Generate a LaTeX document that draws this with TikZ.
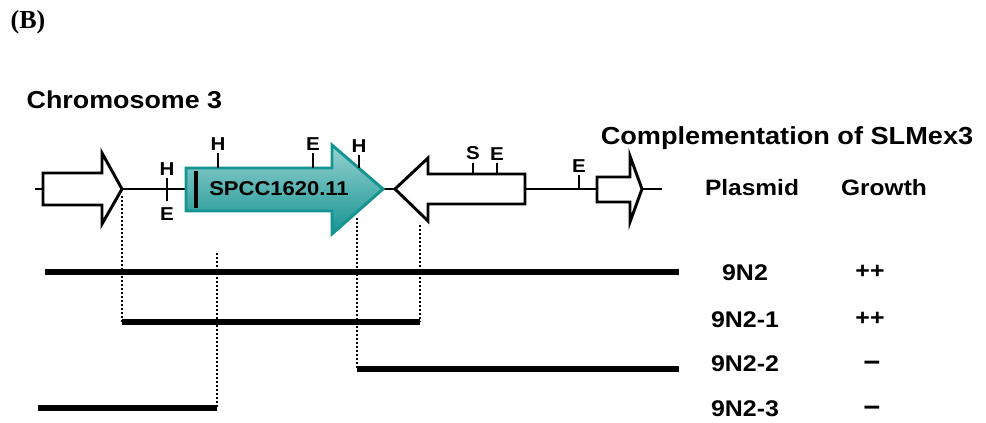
\documentclass[tikz,border=0pt]{standalone}
\usepackage{fontspec}
\setmainfont{Liberation Sans}[FakeStretch=1.1]
\newfontfamily\panelfont{Liberation Serif}
\usepackage{tikz}
\usetikzlibrary{positioning}

\definecolor{geneteal}{RGB}{22,148,146}
\definecolor{genelight}{RGB}{150,210,208}

\begin{document}
\begin{tikzpicture}[
    x=0.75pt, y=-0.75pt,
    lbl/.style={
        font=\fontsize{17}{19}\selectfont\bfseries,
        inner sep=0pt
    },
    site/.style={
        font=\fontsize{14}{15}\selectfont\bfseries,
        inner sep=0pt
    },
    chrom/.style={line width=2pt},
    orf/.style={
        draw=black,
        line width=2.2pt,
        fill=white
    },
    target/.style={
        draw=geneteal,
        line width=2.2pt,
        top color=genelight,
        middle color=geneteal!80!black,
        bottom color=geneteal
    },
    cut/.style={line width=2pt},
    frag/.style={line width=3.8pt},
    joint/.style={line width=1.5pt, dash pattern=on 1.5pt off 1.5pt}
]
\useasboundingbox (0,0) rectangle (986,422);

% Panel letter and headings
\node[font=\panelfont\fontsize{19.5}{21}\selectfont\bfseries, anchor=west]
    (panel) at (6,22) {(B)};
\node[font=\fontsize{18.3}{20}\selectfont\bfseries, anchor=west]
    (chr) at (22,100) {Chromosome 3};
\node[font=\fontsize{18.5}{20}\selectfont\bfseries]
    (compl) at (787,138) {Complementation of SLMex3};
\node[lbl, font=\fontsize{16.7}{18}\selectfont\bfseries] (plasmid) at (752,188) {Plasmid};
\node[lbl, font=\fontsize{16.7}{18}\selectfont\bfseries] (growth) at (884,188) {Growth};

% Chromosome backbone
\coordinate (cL) at (35,189);
\coordinate (cR) at (662,189);
\draw[chrom] (cL) -- (cR);

% Neighbouring ORFs (open arrows)
\draw[orf] (43,173) -- (102,173) -- (102,153) -- (122,189)
    -- (102,224) -- (102,205) -- (43,205) -- cycle;
\draw[orf] (525,174) -- (428,174) -- (428,158) -- (395,189)
    -- (428,221) -- (428,204) -- (525,204) -- cycle;
\draw[orf] (597,177) -- (630,177) -- (630,156) -- (642,189)
    -- (630,222) -- (630,202) -- (597,202) -- cycle;

% SPCC1620.11
\draw[target] (186,168) -- (332,168) -- (332,145) -- (383,189)
    -- (332,234) -- (332,211) -- (186,211) -- cycle;
\draw[line width=3pt] (196,171) -- (196,208);
\node[font=\fontsize{15}{16}\selectfont\bfseries] (orf) at (279,189) {SPCC1620.11};

% Restriction sites
\coordinate (h1) at (167,178);
\coordinate (e1) at (167,201);
\draw[cut] (h1) -- (e1);
\node[site, above=2pt of h1] {H};
\node[site, below=5pt of e1] {E};
\foreach \x/\top/\bot/\s in {218/153/168/H, 313/153/168/E, 359/155/168/H,
                             473/163/174/S, 497/163/174/E, 579/175/189/E} {
    \coordinate (t\x) at (\x,\top);
    \draw[cut] (t\x) -- (\x,\bot);
    \node[site, above=2pt of t\x] {\s};
}

% Subclone ends
\coordinate (s1) at (45,272);   \coordinate (f1) at (679,272);
\coordinate (s2) at (122,322);  \coordinate (f2) at (420,322);
\coordinate (s3) at (357,369);  \coordinate (f3) at (679,369);
\coordinate (s4) at (38,408);   \coordinate (f4) at (217,408);

% Junctions to the map
\draw[joint] (122,196) -- (s2);
\draw[joint] (420,225) -- (f2);
\draw[joint] (357,218) -- (s3);
\draw[joint] (217,253) -- (f4);

% Inserts with plasmid name and growth
\foreach \i/\y/\p in {1/273/9N2, 2/320/9N2-1, 3/364/9N2-2, 4/409/9N2-3} {
    \draw[frag] (s\i) -- (f\i);
    \node[lbl] (p\i) at (745,\y) {\p};
}
\node[lbl] (g1) at (870,272) {++};
\node[lbl] (g2) at (870,319) {++};
\node[lbl, font=\fontsize{20}{20}\selectfont\bfseries] (g3) at (872,366) {−};
\node[lbl, font=\fontsize{20}{20}\selectfont\bfseries] (g4) at (872,411) {−};
\end{tikzpicture}
\end{document}
